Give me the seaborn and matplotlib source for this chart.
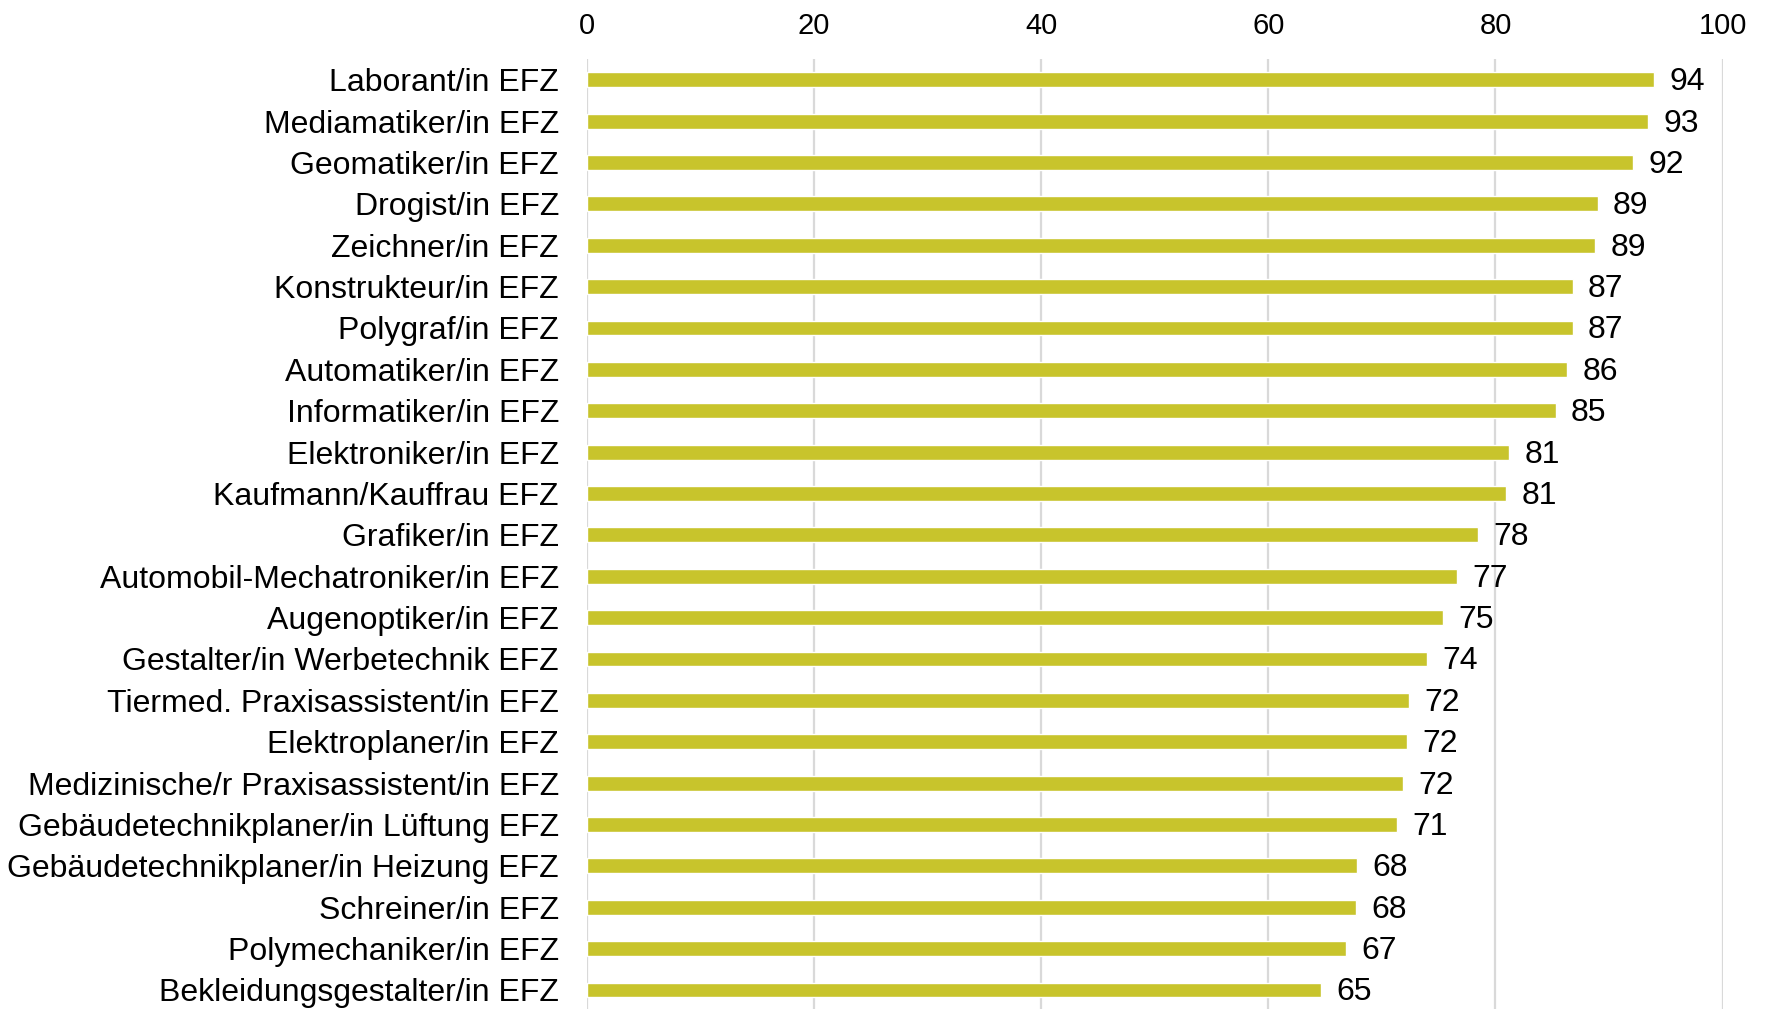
import matplotlib
matplotlib.use("Agg")
import pandas as pd
import matplotlib.pyplot as plt
import seaborn as sns

# Berufe und Werte
berufe = [
    "Laborant/in EFZ", "Mediamatiker/in EFZ", "Geomatiker/in EFZ", "Drogist/in EFZ",
    "Zeichner/in EFZ", "Konstrukteur/in EFZ", "Polygraf/in EFZ", "Automatiker/in EFZ",
    "Informatiker/in EFZ", "Elektroniker/in EFZ", "Kaufmann/Kauffrau EFZ", "Grafiker/in EFZ",
    "Automobil-Mechatroniker/in EFZ", "Augenoptiker/in EFZ", "Gestalter/in Werbetechnik EFZ",
    "Tiermed. Praxisassistent/in EFZ", "Elektroplaner/in EFZ",
    "Medizinische/r Praxisassistent/in EFZ", "Gebäudetechnikplaner/in Lüftung EFZ",
    "Gebäudetechnikplaner/in Heizung EFZ", "Schreiner/in EFZ", "Polymechaniker/in EFZ",
    "Bekleidungsgestalter/in EFZ",
]
werte = [94.0, 93.4, 92.1, 89.0, 88.8, 86.8, 86.8, 86.3, 85.3, 81.2, 80.95, 78.5,
         76.6, 75.4, 74.0, 72.4, 72.2, 71.9, 71.3, 67.8, 67.7, 66.8, 64.6]
beschriftung = [94, 93, 92, 89, 89, 87, 87, 86, 85, 81, 81, 78, 77, 75, 74, 72, 72, 72,
                71, 68, 68, 67, 65]

df = pd.DataFrame({"Beruf": berufe, "Wert": werte})

sns.set_style("white")
plt.rcParams["font.family"] = ["Liberation Sans", "DejaVu Sans"]
plt.rcParams["text.color"] = "black"
plt.rcParams["xtick.color"] = "black"
plt.rcParams["ytick.color"] = "black"

fig = plt.figure(figsize=(17.69, 10.09), dpi=100)
ax = fig.add_axes([0.3317, 0.0, 0.6421, 0.9415])

sns.barplot(data=df, x="Wert", y="Beruf", orient="h", color="#c8c42c",
            saturation=1, width=0.36, ax=ax)

for i, (v, lab) in enumerate(zip(werte, beschriftung)):
    ax.text(v + 1.35, i + 0.06, str(lab), va="center", ha="left", fontsize=23)

ax.set_xlim(0, 100)
ax.set_ylim(22.46, -0.5)
ax.set_xticks([0, 20, 40, 60, 80, 100])
ax.xaxis.tick_top()
ax.tick_params(axis="x", length=0, pad=14, labelsize=21)
ax.tick_params(axis="y", length=0, pad=20, labelsize=23)
ax.set_xlabel("")
ax.set_ylabel("")
ax.grid(axis="x", color="#d9d9d9", linewidth=1.6)
ax.set_axisbelow(True)
for s in ax.spines.values():
    s.set_visible(False)

fig.savefig("out.png", dpi=100)
